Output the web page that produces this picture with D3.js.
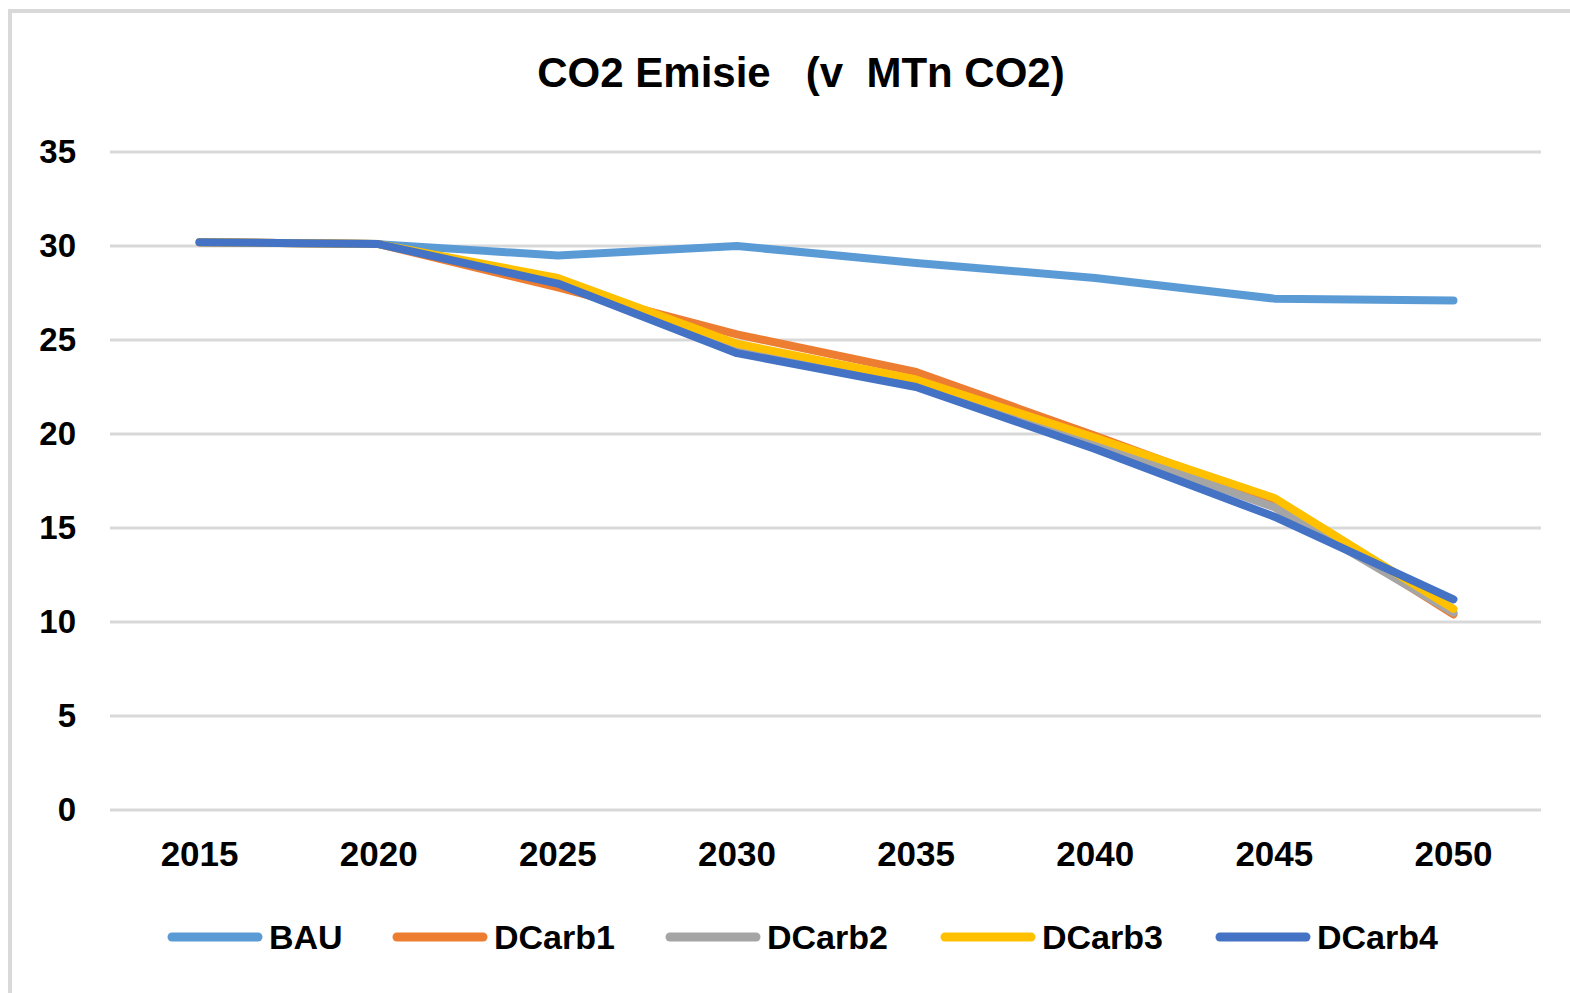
<!DOCTYPE html>
<html>
<head>
<meta charset="utf-8">
<script src="https://cdn.jsdelivr.net/npm/d3@7"></script>
<style>
  body { margin: 0; background: #fff; }
  text { font-family: "Liberation Sans", Arial, sans-serif; font-weight: bold; fill: #000; }
</style>
</head>
<body>
<div id="chart"></div>
<script>
const WIDTH = 1570;
const HEIGHT = 993;

// data
const years = ["2015", "2020", "2025", "2030", "2035", "2040", "2045", "2050"];
const yTicks = [0, 5, 10, 15, 20, 25, 30, 35];
const seriesNames = ["BAU", "DCarb1", "DCarb2", "DCarb3", "DCarb4"];
const seriesColors = ["#5b9bd5", "#ed7d31", "#a5a5a5", "#ffc000", "#4472c4"];
const bau    = [30.2, 30.1, 29.5, 30.0, 29.1, 28.3, 27.2, 27.1];
const dcarb1 = [30.2, 30.1, 27.8, 25.3, 23.3, 19.9, 16.4, 10.4];
const dcarb2 = [30.2, 30.1, 28.1, 24.6, 22.7, 19.5, 16.1, 10.5];
const dcarb3 = [30.2, 30.1, 28.3, 24.8, 22.9, 19.8, 16.6, 10.7];
const dcarb4 = [30.2, 30.1, 28.0, 24.3, 22.5, 19.2, 15.6, 11.2];
const allSeries = [bau, dcarb1, dcarb2, dcarb3, dcarb4];

let svg = d3.select("#chart")
    .append("svg")
    .attr("width", WIDTH)
    .attr("height", HEIGHT)
    .style("display", "block");

// chart frame
svg.append("rect")
    .attr("x", 10)
    .attr("y", 11)
    .attr("width", WIDTH + 40)
    .attr("height", HEIGHT + 40)
    .attr("fill", "#fff")
    .attr("stroke", "#d9d9d9")
    .attr("stroke-width", 4);

var x = d3.scaleBand().domain(years).range([110, 1543]).padding(0);
var y = d3.scaleLinear().domain([0, 35]).range([810, 152]);
var cx = function(d) { return x(d) + x.bandwidth() / 2 };

// title
svg.append("text")
    .attr("x", 801)
    .attr("y", 87)
    .attr("text-anchor", "middle")
    .style("font-size", "42px")
    .style("white-space", "pre")
    .attr("xml:space", "preserve")
    .text("CO2 Emisie   (v  MTn CO2)");

// gridlines
svg.append("g")
    .selectAll("line")
    .data(yTicks)
    .enter()
    .append("line")
    .attr("x1", 110)
    .attr("x2", 1541)
    .attr("y1", function(d) { return y(d) })
    .attr("y2", function(d) { return y(d) })
    .attr("stroke", "#d9d9d9")
    .attr("stroke-width", 3);

// y labels
svg.append("g")
    .selectAll("text")
    .data(yTicks)
    .enter()
    .append("text")
    .attr("x", 76)
    .attr("y", function(d) { return y(d) + 11 })
    .attr("text-anchor", "end")
    .style("font-size", "33px")
    .text(function(d) { return d });

// x labels
svg.append("g")
    .selectAll("text")
    .data(years)
    .enter()
    .append("text")
    .attr("x", function(d) { return cx(d) })
    .attr("y", 866)
    .attr("text-anchor", "middle")
    .style("font-size", "35px")
    .text(function(d) { return d });

// lines
var line = d3.line()
    .x(function(d, i) { return cx(years[i]) })
    .y(function(d) { return y(d) });

svg.append("g")
    .selectAll("path")
    .data(allSeries)
    .enter()
    .append("path")
    .attr("d", function(d) { return line(d) })
    .attr("fill", "none")
    .attr("stroke", function(d, i) { return seriesColors[i] })
    .attr("stroke-width", 8)
    .attr("stroke-linejoin", "round")
    .attr("stroke-linecap", "round");

// legend
var legendX = [167, 392, 665, 940, 1215];
var legend = svg.append("g")
    .selectAll("g")
    .data(seriesNames)
    .enter()
    .append("g")
    .attr("transform", function(d, i) { return `translate(${legendX[i]},937)` });

legend.append("line")
    .attr("x1", 5)
    .attr("x2", 91)
    .attr("stroke", function(d, i) { return seriesColors[i] })
    .attr("stroke-width", 9)
    .attr("stroke-linecap", "round");

legend.append("text")
    .attr("x", 102)
    .attr("y", 12)
    .style("font-size", "34px")
    .text(function(d) { return d });
</script>
</body>
</html>
